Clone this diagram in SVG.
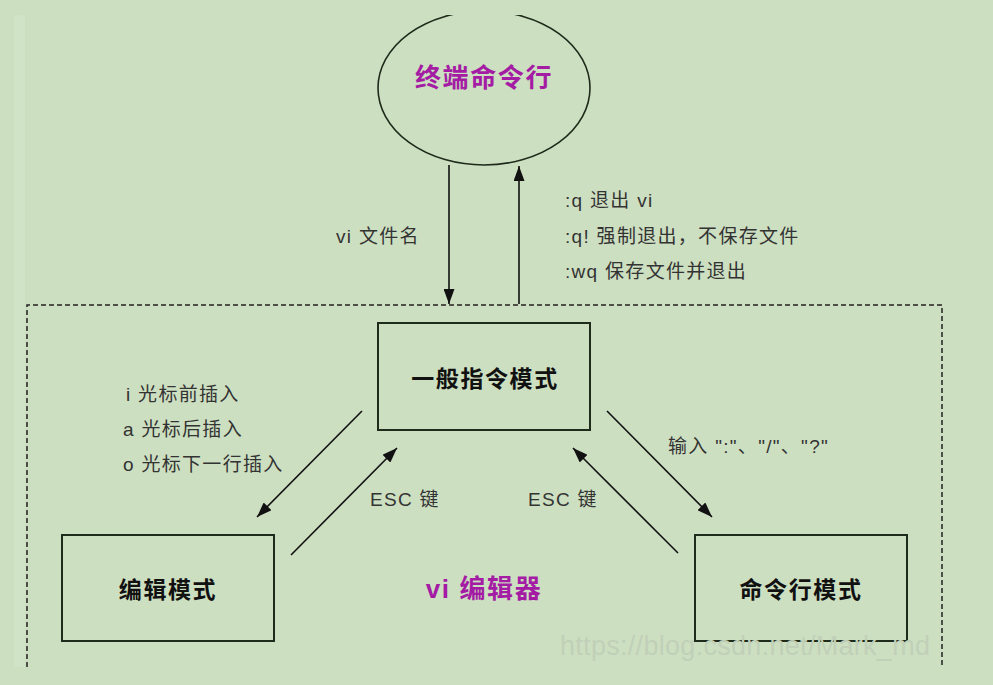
<svg xmlns="http://www.w3.org/2000/svg" width="993" height="685" viewBox="0 0 993 685">
<defs>
<style>
.bg{fill:#cddfc1}
.box{fill:none;stroke:#1e2a1a;stroke-width:2}
.edge{fill:none;stroke:#111;stroke-width:1.6}
.lbl{font-family:"Liberation Sans","Noto Sans CJK SC",sans-serif;font-size:19px;fill:#333;letter-spacing:1.3px}
.node{font-family:"Liberation Sans","Noto Sans CJK SC",sans-serif;font-size:23px;font-weight:bold;fill:#111;letter-spacing:1.6px;text-anchor:middle}
.title{font-family:"Liberation Sans","Noto Sans CJK SC",sans-serif;font-size:26px;font-weight:bold;fill:#a41ca4;letter-spacing:1.6px;text-anchor:middle}
</style>
<marker id="ah" viewBox="0 0 15 11" refX="15" refY="5.5" markerWidth="15" markerHeight="11" markerUnits="userSpaceOnUse" orient="auto">
<path d="M0,0 L15,5.5 L0,11 Z" fill="#111"/>
</marker>
<clipPath id="topclip"><rect x="0" y="15" width="993" height="670"/></clipPath>
</defs>
<rect class="bg" x="0" y="0" width="993" height="685"/>
<rect x="14" y="15" width="11" height="652" fill="#d1e3c6"/>

<g id="vi-editor">
<path d="M27,667 V305 H942 V667" fill="none" stroke="#222" stroke-width="1.5" stroke-dasharray="5,3"/>
<text class="title" x="484" y="598">vi 编辑器</text>
</g>

<g id="terminal">
<ellipse cx="484" cy="88" rx="106" ry="77" fill="none" stroke="#1e2a1a" stroke-width="1.6" clip-path="url(#topclip)"/>
<text class="title" x="484" y="87">终端命令行</text>
</g>

<g id="normal-mode">
<rect class="box" x="378" y="323" width="212" height="107"/>
<text class="node" x="485" y="387">一般指令模式</text>
</g>

<g id="insert-mode">
<rect class="box" x="62" y="535" width="212" height="106"/>
<text class="node" x="168" y="598">编辑模式</text>
</g>

<g id="cmdline-mode">
<rect class="box" x="695" y="535" width="212" height="106"/>
<text class="node" x="801" y="598">命令行模式</text>
</g>

<g id="connectors">
<line class="edge" x1="449" y1="165" x2="449" y2="304" marker-end="url(#ah)"/>
<line class="edge" x1="519" y1="304" x2="519" y2="166" marker-end="url(#ah)"/>
<line class="edge" x1="362" y1="411" x2="257" y2="517" marker-end="url(#ah)"/>
<line class="edge" x1="291" y1="555" x2="397" y2="448" marker-end="url(#ah)"/>
<line class="edge" x1="607" y1="411" x2="712" y2="517" marker-end="url(#ah)"/>
<line class="edge" x1="678" y1="553" x2="573" y2="448" marker-end="url(#ah)"/>
</g>

<g id="labels">
<text class="lbl" x="336" y="243">vi 文件名</text>
<text class="lbl" x="565" y="207">:q  退出 vi</text>
<text class="lbl" x="565" y="243">:q! 强制退出，不保存文件</text>
<text class="lbl" x="565" y="278">:wq 保存文件并退出</text>
<text class="lbl" x="126" y="401">i 光标前插入</text>
<text class="lbl" x="123" y="436">a 光标后插入</text>
<text class="lbl" x="123" y="471">o 光标下一行插入</text>
<text class="lbl" x="370" y="506">ESC 键</text>
<text class="lbl" x="528" y="506">ESC 键</text>
<text class="lbl" x="668" y="453">输入 ":"、"/"、"?"</text>
</g>

<text x="560" y="655" font-family="Liberation Sans,sans-serif" font-size="27" fill="#c1d0b8" textLength="370">https://blog.csdn.net/Mark_md</text>
</svg>
